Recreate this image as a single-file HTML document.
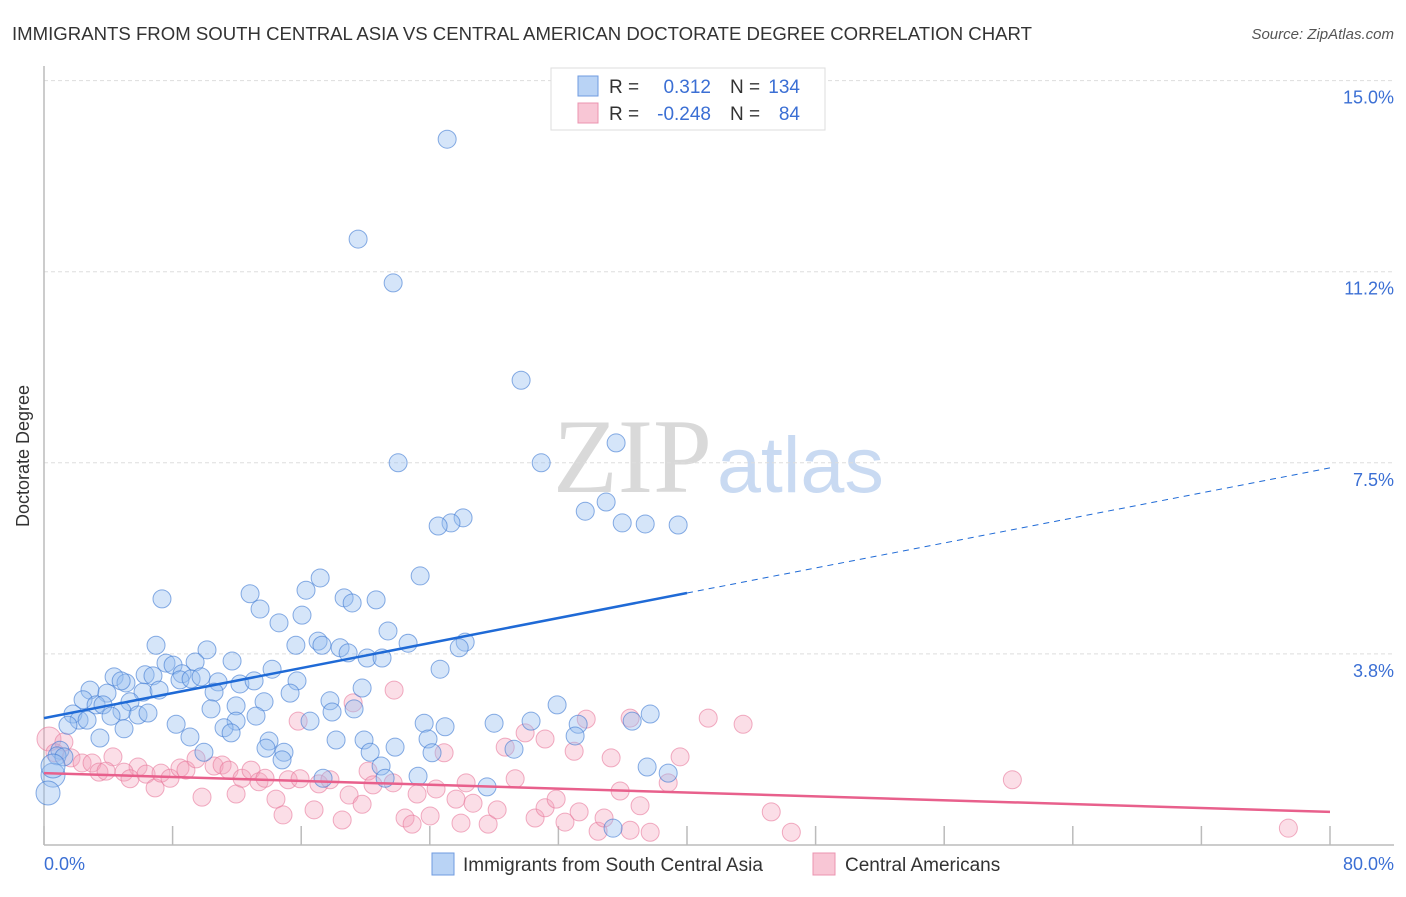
<!DOCTYPE html>
<html><head><meta charset="utf-8"><style>
body{margin:0;background:#fff;font-family:"Liberation Sans",sans-serif;}
svg text{font-family:"Liberation Sans",sans-serif;}
</style></head><body>
<svg id="chart" width="1406" height="892" viewBox="0 0 1406 892" xmlns="http://www.w3.org/2000/svg">
<text x="12" y="40" font-size="18.5" fill="#333" textLength="1020" lengthAdjust="spacingAndGlyphs">IMMIGRANTS FROM SOUTH CENTRAL ASIA VS CENTRAL AMERICAN DOCTORATE DEGREE CORRELATION CHART</text>
<text x="1394" y="39" font-size="15" fill="#555" font-style="italic" text-anchor="end">Source: ZipAtlas.com</text>
<g>
<text x="553" y="492" font-size="106" fill="#d9d9d9" style="font-family:'Liberation Serif',serif">ZIP</text>
<text x="717" y="492" font-size="79" fill="#c9daf2">atlas</text>
</g>
<g id="grid"></g>
<g id="axes"></g>
<g id="pts"></g>
<g id="trends"></g>
<text transform="translate(29,456) rotate(-90)" font-size="18" fill="#333" text-anchor="middle">Doctorate Degree</text>
<text x="44" y="870" font-size="18" fill="#3b6fd4">0.0%</text>
<text x="1394" y="870" font-size="18" fill="#3b6fd4" text-anchor="end">80.0%</text>
<g>
<rect x="551" y="68" width="274" height="62" fill="#fff" stroke="#ddd"/>
<rect x="578" y="76" width="20" height="20" fill="#b9d3f5" stroke="#6f9be0"/>
<rect x="578" y="103" width="20" height="20" fill="#f8c6d5" stroke="#eb94b0"/>
<text x="609" y="93" font-size="19" fill="#333">R =</text>
<text x="711" y="93" font-size="19" fill="#3b6fd4" text-anchor="end">0.312</text>
<text x="730" y="93" font-size="19" fill="#333">N =</text>
<text x="800" y="93" font-size="19" fill="#3b6fd4" text-anchor="end">134</text>
<text x="609" y="120" font-size="19" fill="#333">R =</text>
<text x="711" y="120" font-size="19" fill="#3b6fd4" text-anchor="end">-0.248</text>
<text x="730" y="120" font-size="19" fill="#333">N =</text>
<text x="800" y="120" font-size="19" fill="#3b6fd4" text-anchor="end">84</text>
</g>
<g>
<rect x="432" y="853" width="22" height="22" fill="#b9d3f5" stroke="#6f9be0"/>
<text x="463" y="871" font-size="19" fill="#333">Immigrants from South Central Asia</text>
</g>
<g>
<rect x="813" y="853" width="22" height="22" fill="#f8c6d5" stroke="#eb94b0"/>
<text x="845" y="871" font-size="19" fill="#333">Central Americans</text>
</g>
</svg>
<script>
const yTicks=[3.75,7.5,11.25,15];
const yTickLabels=["3.8%","7.5%","11.2%","15.0%"];
const xTicks=[0,8,16,24,32,40,48,56,64,72,80];
const blueX=[25.08,19.54,21.72,29.68,35.59,22.03,30.93,34.97,33.67,26.07,25.32,24.52,35.97,37.40,39.45,23.40,17.18,16.30,7.34,12.82,18.67,19.17,20.66,13.44,16.05,14.62,21.40,17.05,15.67,17.29,22.65,26.20,25.83,18.42,18.92,6.97,10.14,20.10,21.03,11.70,9.40,7.59,8.03,6.29,8.59,6.78,8.46,9.15,9.77,14.19,24.64,4.36,5.10,4.80,10.83,12.19,13.07,15.74,6.16,7.16,2.86,3.92,10.58,15.31,19.79,2.43,3.24,5.35,3.67,10.39,11.95,13.69,17.79,31.92,4.85,5.85,6.47,4.17,13.19,11.95,17.92,19.29,37.71,1.80,2.18,2.68,1.49,8.22,16.55,23.65,24.95,28.00,30.30,33.23,36.59,11.20,11.64,4.98,3.48,9.08,18.17,23.89,33.04,14.00,13.81,14.93,19.91,21.84,20.29,24.14,29.24,9.95,14.81,0.99,0.81,1.24,20.97,37.52,38.83,17.36,21.22,23.27,27.56,0.56,0.25,0.56,35.40];
const blueY=[13.85,11.89,11.03,9.12,7.89,7.50,7.50,6.73,6.55,6.42,6.32,6.26,6.32,6.30,6.28,5.28,5.24,5.00,4.83,4.93,4.85,4.75,4.81,4.63,4.51,4.36,4.20,4.00,3.92,3.92,3.96,3.98,3.87,3.87,3.77,3.92,3.83,3.67,3.67,3.61,3.59,3.57,3.53,3.34,3.36,3.32,3.24,3.26,3.30,3.45,3.45,3.30,3.18,3.22,3.20,3.16,3.22,3.22,3.00,3.04,3.04,2.98,3.00,2.98,3.08,2.85,2.75,2.81,2.75,2.67,2.73,2.81,2.83,2.75,2.63,2.55,2.59,2.53,2.53,2.43,2.61,2.67,2.57,2.57,2.45,2.45,2.35,2.37,2.43,2.39,2.32,2.39,2.43,2.37,2.43,2.30,2.20,2.28,2.10,2.12,2.06,2.08,2.14,2.04,1.90,1.82,2.06,1.92,1.82,1.81,1.88,1.82,1.67,1.86,1.75,1.73,1.55,1.53,1.41,1.31,1.31,1.35,1.14,1.37,1.02,1.55,0.33];
const pinkX=[21.78,41.32,43.49,36.46,33.73,19.23,15.81,29.93,31.17,28.69,24.89,32.98,35.28,39.57,0.31,1.24,0.68,1.68,2.37,2.99,4.29,3.42,3.86,5.85,4.98,5.35,6.35,6.91,7.28,7.84,8.46,8.83,9.46,9.83,10.58,11.08,11.51,11.95,12.32,12.88,13.37,13.75,14.43,14.87,15.19,15.93,16.80,17.10,17.79,18.55,18.98,19.79,20.16,20.47,21.72,22.46,22.90,23.21,24.02,24.39,25.63,25.94,26.26,26.69,27.63,28.19,29.31,30.55,31.17,31.86,32.41,33.29,34.47,34.84,35.84,36.46,37.08,37.71,38.83,45.24,46.49,60.24,77.41];
const pinkY=[3.04,2.49,2.37,2.49,2.47,2.79,2.43,2.20,2.08,1.92,1.81,1.84,1.71,1.73,2.08,2.02,1.81,1.71,1.61,1.61,1.73,1.43,1.45,1.53,1.43,1.30,1.39,1.12,1.41,1.31,1.51,1.47,1.69,0.94,1.55,1.57,1.47,1.00,1.31,1.47,1.24,1.31,0.90,0.59,1.28,1.30,0.69,1.20,1.28,0.49,0.98,0.80,1.45,1.18,1.22,0.53,0.41,1.00,0.57,1.10,0.90,0.43,1.22,0.82,0.41,0.69,1.30,0.53,0.73,0.90,0.45,0.65,0.27,0.53,1.06,0.29,0.77,0.25,1.22,0.65,0.25,1.28,0.33];
const blueTrend=[2.49,7.40];
const pinkTrend=[1.41,0.65];
const NS="http://www.w3.org/2000/svg";
const X0=44,X1=1330,Y0=845,YTOP=80.6;
function sx(v){return X0+(X1-X0)*v/80;}
function sy(v){return Y0-(Y0-YTOP)*v/15;}
function mk(t,a,p){const e=document.createElementNS(NS,t);for(const k in a)e.setAttribute(k,a[k]);document.getElementById(p).appendChild(e);return e;}
yTicks.forEach((t,i)=>{
 const l=mk('line',{x1:X0,x2:1393,y1:sy(t),y2:sy(t),stroke:'#ddd','stroke-dasharray':'4,3'},'grid');
 
 
 const tx=mk('text',{x:1394,y:sy(t)+23,'font-size':18,fill:'#3b6fd4','text-anchor':'end'},'grid');
 tx.textContent=yTickLabels[i];
 
 
});
const ya=mk('line',{x1:X0,x2:X0,y1:66,y2:Y0,stroke:'#bbb','stroke-width':1.5},'axes');


const xa=mk('line',{x1:X0,x2:1394,y1:Y0,y2:Y0,stroke:'#bbb','stroke-width':1.5},'axes');


xTicks.forEach(t=>{
 const l=mk('line',{x1:sx(t),x2:sx(t),y1:826,y2:Y0,stroke:'#bbb','stroke-width':1.5},'axes');
 
 
});
pinkX.forEach((x,i)=>{
 const c=mk('circle',{cx:sx(x),cy:sy(pinkY[i]),r:(x<0.5?12:9),fill:'rgba(244,160,186,0.35)',stroke:'rgba(232,120,155,0.6)','stroke-width':1},'pts');
 
 
});
blueX.forEach((x,i)=>{
 const c=mk('circle',{cx:sx(x),cy:sy(blueY[i]),r:(x<0.6?12:9),fill:'rgba(150,190,240,0.4)',stroke:'rgba(60,120,210,0.6)','stroke-width':1},'pts');
 
 
});
function ty(tr,x){return tr[0]+(tr[1]-tr[0])*x/80;}
const b1=mk('line',{x1:sx(0),y1:sy(ty(blueTrend,0)),x2:sx(40),y2:sy(ty(blueTrend,40)),stroke:'#1f6ad6','stroke-width':2.5},'trends');


const b2=mk('line',{x1:sx(40),y1:sy(ty(blueTrend,40)),x2:sx(80),y2:sy(ty(blueTrend,80)),stroke:'#1f6ad6','stroke-width':1,'stroke-dasharray':'6,5'},'trends');


const p1=mk('line',{x1:sx(0),y1:sy(pinkTrend[0]),x2:sx(80),y2:sy(pinkTrend[1]),stroke:'#e8608c','stroke-width':2.5},'trends');


</script>
</body></html>
